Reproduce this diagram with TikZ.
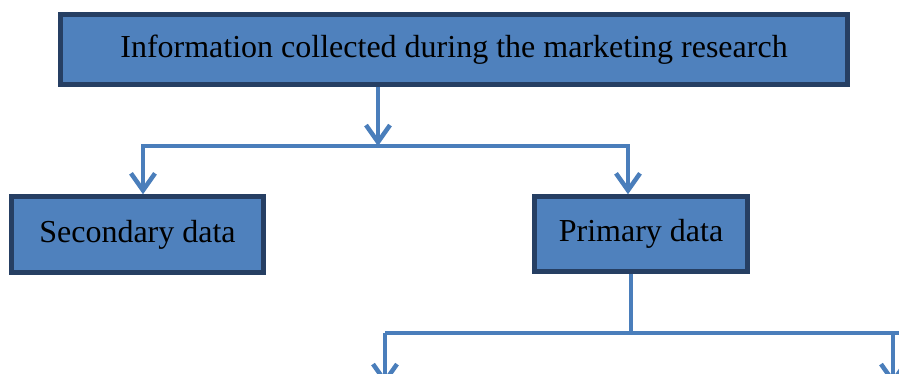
\documentclass[tikz,border=0pt]{standalone}
\usepackage{fontspec}
\setmainfont{Liberation Serif}
\usetikzlibrary{arrows.meta, positioning}
\definecolor{boxfill}{HTML}{4F81BD}
\definecolor{boxline}{HTML}{263F63}
\definecolor{linkcol}{HTML}{4A7EBB}

\begin{document}
\begin{tikzpicture}[x=1pt,y=1pt,
  databox/.style={draw=boxline,fill=boxfill,line width=4.5pt,inner sep=0pt,
    font=\fontsize{32}{38}\selectfont},
  trunk/.style={draw=linkcol,line width=4pt},
  link/.style={trunk,-{Straight Barb[length=17pt,width=24pt,line width=4.5pt]}}]
\useasboundingbox (0,0) rectangle (899,373);
\clip (0,0) rectangle (899,373);
%boxes
\node[databox,minimum width=787,minimum height=70] (info) at (454,323.5) {Information collected during the marketing research};
\node[databox,minimum width=252,minimum height=76] (sec) at (137.5,138.5) {Secondary data};
\node[databox,minimum width=213,minimum height=75] (prim) at (641,139) {Primary data};
%first split
\coordinate (hub) at (378,227);
\coordinate (lft) at (143,227);
\coordinate (rgt) at (628,227);
\draw[link] (info.south -| hub) -- (hub);
\draw[link] (hub) -- (lft) -- (lft |- sec.north);
\draw[link] (hub) -- (rgt) -- (rgt |- prim.north);
%second split
\coordinate (fork) at (631,40);
\coordinate (resA) at (385,40);
\coordinate (resB) at (893,40);
\coordinate (edge) at (910,40);
\coordinate (endA) at (385,-12);
\coordinate (endB) at (893,-12);
\draw[trunk] (prim.south -| fork) -- (fork);
\draw[trunk] (resA) -- (edge);
\draw[link] (resA) -- (endA);
\draw[link] (resB) -- (endB);
\end{tikzpicture}
\end{document}
